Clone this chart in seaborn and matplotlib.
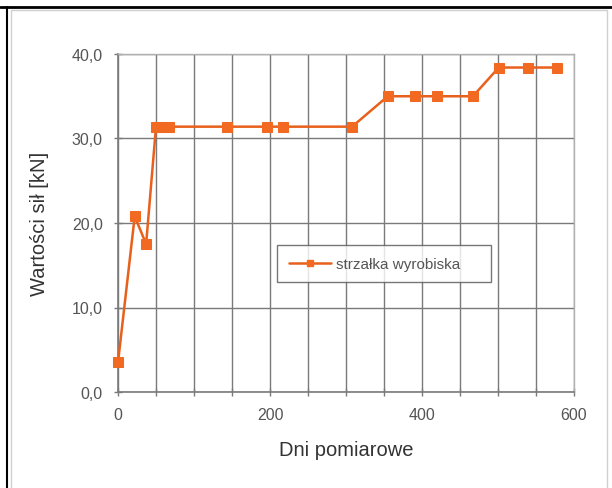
import matplotlib
matplotlib.use("Agg")
import matplotlib.pyplot as plt
from matplotlib.lines import Line2D
from matplotlib.patches import Rectangle
import seaborn as sns
import pandas as pd

# measurement days and force values
dni = [0, 22, 37, 50, 58, 67, 143, 196, 217, 308, 355, 391, 420, 467, 501, 540, 578]
sily = [3.5, 20.8, 17.5, 31.4, 31.4, 31.4, 31.4, 31.4, 31.4, 31.4,
        35.0, 35.0, 35.0, 35.0, 38.4, 38.4, 38.4]

x_ticks = [0, 200, 400, 600]
x_tick_labels = ["0", "200", "400", "600"]
y_ticks = [0, 10, 20, 30, 40]
y_tick_labels = ["0,0", "10,0", "20,0", "30,0", "40,0"]

seria = "strzałka wyrobiska"
x_label = "Dni pomiarowe"
y_label = "Wartości sił [kN]"

df = pd.DataFrame({"dzien": dni, "sila": sily})

sns.set_theme(style="white")
plt.rcParams["font.family"] = ["Liberation Sans", "DejaVu Sans"]

fig = plt.figure(figsize=(6.12, 4.89), dpi=100)
ax = fig.add_axes([118 / 612, 1 - 393 / 489, 456 / 612, 338 / 489])

line_col = "#E8601C"
mark_col = "#F26A22"

sns.lineplot(data=df, x="dzien", y="sila", ax=ax, color=line_col, linewidth=1.8,
             marker="s", markersize=7.5, markerfacecolor=mark_col,
             markeredgecolor=mark_col, legend=False, clip_on=False, zorder=5)

ax.set_xlim(0, 600)
ax.set_ylim(0, 40)
ax.set_xticks(x_ticks)
ax.set_xticklabels(x_tick_labels)
ax.set_xticks(range(0, 601, 50), minor=True)
ax.set_yticks(y_ticks)
ax.set_yticklabels(y_tick_labels)

grid_col = "#7a7a7a"
ax.grid(True, which="both", axis="x", color=grid_col, linewidth=1.0)
ax.grid(True, which="major", axis="y", color=grid_col, linewidth=1.0)
ax.set_axisbelow(True)

for side in ["top", "right"]:
    ax.spines[side].set_visible(True)
    ax.spines[side].set_color("#b0b0b0")
    ax.spines[side].set_linewidth(1.0)
for side in ["left", "bottom"]:
    ax.spines[side].set_color(grid_col)
    ax.spines[side].set_linewidth(1.2)

ax.tick_params(axis="both", which="both", direction="inout", length=6,
               color=grid_col, width=1.0, labelsize=11.5, labelcolor="#555555",
               bottom=True, left=True)
ax.tick_params(axis="x", pad=8)
ax.tick_params(axis="y", pad=8)

ax.set_xlabel(x_label, fontsize=14.5, color="#333333", labelpad=13)
ax.set_ylabel(y_label, fontsize=14.5, color="#333333", labelpad=16)

handle = Line2D([], [], color=line_col, linewidth=1.8, marker="s", markersize=5,
                markerfacecolor=mark_col, markeredgecolor=mark_col)
leg = ax.legend([handle], [seria], loc="center",
                bbox_to_anchor=(0.349, 0.32, 0.469, 0.118), mode="expand",
                frameon=True, fancybox=False,
                edgecolor="#555555", fontsize=11, handlelength=2.8,
                borderpad=0.75, labelcolor="#555555", handletextpad=0.3,
                borderaxespad=0)
leg.get_frame().set_linewidth(1.0)
leg.get_frame().set_facecolor("white")

# chart frame
fig.add_artist(Line2D([0, 1], [1 - 8 / 489] * 2, color="black", linewidth=2,
                      transform=fig.transFigure))
fig.add_artist(Line2D([7 / 612] * 2, [0, 1 - 8 / 489], color="black", linewidth=1.5,
                      transform=fig.transFigure))
fig.add_artist(Rectangle((11 / 612, -0.01), (607 - 11) / 612, 1 - 11 / 489 + 0.01,
                         fill=False, edgecolor="#d0d0d0", linewidth=1.0,
                         transform=fig.transFigure))

fig.savefig("out.png", dpi=100)
